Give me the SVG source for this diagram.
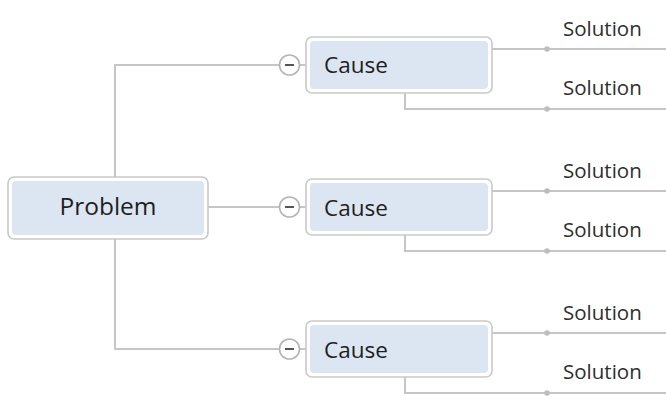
<svg xmlns="http://www.w3.org/2000/svg" width="666" height="414" viewBox="0 0 666 414">
<style>
.outer{fill:#ffffff;stroke:#c9c9c9;stroke-width:1.6}
.inner{fill:#dce6f2}
.ln{fill:none;stroke:#c6c6c6;stroke-width:2}
.dot{fill:#bdbdbd}
.tog{fill:#ffffff;stroke:#b5b5b5;stroke-width:1.6}
.minus{stroke:#555555;stroke-width:2}
.t{font-family:"Open Sans","Liberation Sans",sans-serif;fill:#1e1e1e}
.big{font-size:24.5px}
.mid{font-size:22.5px}
.sm{font-size:20.5px;fill:#2e2e2e}
</style>
<rect width="666" height="414" fill="#ffffff"/>
<g id="connectors">
<path class="ln" d="M115,177 V65 H279.5"/>
<path class="ln" d="M208,207 H279.5"/>
<path class="ln" d="M115,239 V349 H279.5"/>
<path class="ln" d="M299.5,65 H306 M299.5,207 H306 M299.5,349 H306"/>
<path class="ln" d="M492,49 H666 M405,93 V109 H666"/>
<path class="ln" d="M492,191 H666 M405,235 V251 H666"/>
<path class="ln" d="M492,333 H666 M405,377 V393 H666"/>
<g>
<circle class="dot" cx="547" cy="49" r="2.8"/>
<circle class="dot" cx="547" cy="109" r="2.8"/>
<circle class="dot" cx="547" cy="191" r="2.8"/>
<circle class="dot" cx="547" cy="251" r="2.8"/>
<circle class="dot" cx="547" cy="333" r="2.8"/>
<circle class="dot" cx="547" cy="393" r="2.8"/>
</g>
<g>
<circle class="tog" cx="289.5" cy="65" r="10"/>
<line class="minus" x1="285" y1="65" x2="294" y2="65"/>
<circle class="tog" cx="289.5" cy="207" r="10"/>
<line class="minus" x1="285" y1="207" x2="294" y2="207"/>
<circle class="tog" cx="289.5" cy="349" r="10"/>
<line class="minus" x1="285" y1="349" x2="294" y2="349"/>
</g>
</g>
<g id="problem">
<rect class="outer" x="8" y="177" width="200" height="62" rx="6"/>
<rect class="inner" x="12" y="181" width="192" height="54" rx="4"/>
<text class="t big" x="108" y="214.5" text-anchor="middle">Problem</text>
</g>
<g id="cause1">
<rect class="outer" x="306" y="37" width="186" height="56" rx="6"/>
<rect class="inner" x="310" y="41" width="178" height="48" rx="4"/>
<text class="t mid" x="324" y="72.5">Cause</text>
</g>
<g id="cause2">
<rect class="outer" x="306" y="179" width="186" height="56" rx="6"/>
<rect class="inner" x="310" y="183" width="178" height="48" rx="4"/>
<text class="t mid" x="324" y="215.5">Cause</text>
</g>
<g id="cause3">
<rect class="outer" x="306" y="321" width="186" height="56" rx="6"/>
<rect class="inner" x="310" y="325" width="178" height="48" rx="4"/>
<text class="t mid" x="324" y="357.5">Cause</text>
</g>
<g id="solution1"><text class="t sm" x="563" y="35.5">Solution</text></g>
<g id="solution2"><text class="t sm" x="563" y="95">Solution</text></g>
<g id="solution3"><text class="t sm" x="563" y="177.5">Solution</text></g>
<g id="solution4"><text class="t sm" x="563" y="237">Solution</text></g>
<g id="solution5"><text class="t sm" x="563" y="319.5">Solution</text></g>
<g id="solution6"><text class="t sm" x="563" y="379">Solution</text></g>
</svg>
